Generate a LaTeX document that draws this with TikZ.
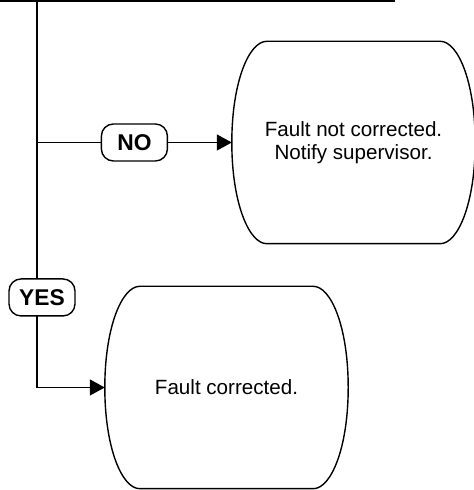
\documentclass[tikz,border=0pt]{standalone}
\usepackage{fontspec}
\setmainfont{Liberation Sans}
\usetikzlibrary{arrows.meta}
\begin{document}
\begin{tikzpicture}[x=0.5pt,y=0.5pt,line width=0.7pt,
 arr/.style={-{Triangle[length=7.5pt,width=8pt]}},
 term/.style={minimum width=121pt,minimum height=100.5pt,inner sep=0pt,
              align=center,font=\fontsize{10.3}{11.6}\selectfont},
 lbl/.style={draw,fill=white,rounded corners=6pt,minimum width=33pt,
             minimum height=18.5pt,inner sep=2pt,
             font=\bfseries\fontsize{11.4}{13}\selectfont}]
 \useasboundingbox (0,0) rectangle (474,490);
 \coordinate (tl) at (0,489);
 \coordinate (tr) at (395,489);
 \coordinate (top) at (37,489);
 \node[term] (nc) at (353.5,347.5) {Fault not corrected.\\Notify supervisor.};
 \node[term] (fc) at (226.5,102.5) {Fault corrected.};
 % bulging outlines
 \foreach \n in {nc,fc}
  \draw ([xshift=17.5pt]\n.north west) -- ([xshift=-17.5pt]\n.north east)
   .. controls +(9pt,0) and +(0,30pt) .. (\n.east)
   .. controls +(0,-30pt) and +(9pt,0) .. ([xshift=-17.5pt]\n.south east)
   -- ([xshift=17.5pt]\n.south west)
   .. controls +(-9pt,0) and +(0,-30pt) .. (\n.west)
   .. controls +(0,30pt) and +(-9pt,0) .. ([xshift=17.5pt]\n.north west) -- cycle;
 \draw (tl) -- (tr);
 \draw[arr] (top |- nc.west) -- node[lbl] (no) {NO} (nc.west);
 \draw[arr] (top) -- node[lbl,pos=0.767,xshift=2.5pt] (yes) {YES}
  (top |- fc.west) -- (fc.west);
\end{tikzpicture}
\end{document}
